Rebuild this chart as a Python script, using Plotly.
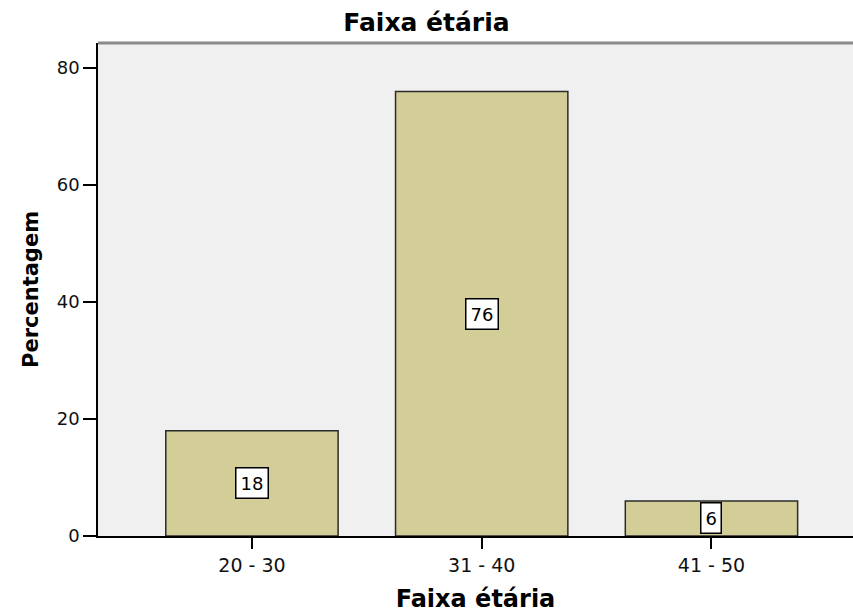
import plotly.graph_objects as go

# Age-group distribution (percentages)
categories = ["20 - 30", "31 - 40", "41 - 50"]
percentages = [18, 76, 6]
y_ticks = [0, 20, 40, 60, 80]

BAR_FILL = "#d3ce97"
BAR_LINE = "#2b2b2b"
PLOT_BG = "#f0f0f0"
FONT = "DejaVu Sans"

fig = go.Figure()
fig.add_trace(go.Bar(
    x=categories,
    y=percentages,
    width=0.75,
    marker=dict(color=BAR_FILL, line=dict(color=BAR_LINE, width=1.5)),
    hoverinfo="x+y",
))

# Value labels in white boxes at the middle of each bar
for cat, val in zip(categories, percentages):
    fig.add_annotation(
        x=cat, y=val / 2, text=str(val), showarrow=False,
        font=dict(family=FONT, size=18, color="black"),
        bgcolor="white", bordercolor="black", borderwidth=1.5, borderpad=4,
    )

# Grey top border of the plot frame
fig.add_shape(type="line", xref="paper", yref="paper",
              x0=0, x1=1, y0=1, y1=1,
              line=dict(color="#8a8a8a", width=3))

fig.update_layout(
    width=853, height=615,
    margin=dict(l=98, r=0, t=43, b=79),
    paper_bgcolor="white",
    plot_bgcolor=PLOT_BG,
    showlegend=False,
    bargap=0.25,
    title=dict(text="<b>Faixa étária</b>", x=0.5, xanchor="center",
               y=1 - 22 / 615, yanchor="middle",
               font=dict(family=FONT, size=25, color="black")),
    font=dict(family=FONT, color="black"),
)

fig.update_xaxes(
    range=[-0.670, 2.616],
    showline=True, linecolor="black", linewidth=1.5,
    ticks="outside", ticklen=11, tickwidth=1.5, tickcolor="black",
    tickfont=dict(family=FONT, size=19, color="#111"),
    showgrid=False, zeroline=False,
    title=dict(text="<b>Faixa étária</b>", standoff=16,
               font=dict(family=FONT, size=24, color="black")),
)

fig.update_yaxes(
    range=[0, 84.3],
    tickvals=y_ticks,
    showline=True, linecolor="black", linewidth=1.5,
    ticks="outside", ticklen=13, tickwidth=1.5, tickcolor="black",
    tickfont=dict(family=FONT, size=18, color="#111"),
    showgrid=False, zeroline=False,
    title=dict(text="<b>Percentagem</b>", standoff=12,
               font=dict(family=FONT, size=21, color="black")),
)

fig.write_html("out.html")
